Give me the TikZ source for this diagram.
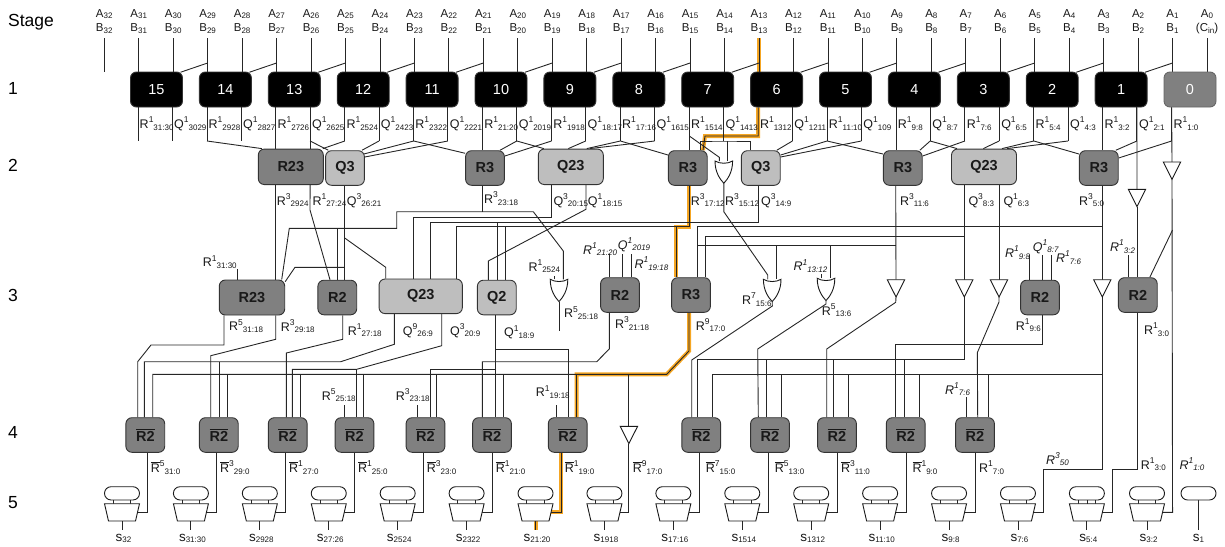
\documentclass[tikz,border=0pt]{standalone}
\usepackage{fontspec}
\setmainfont{Liberation Sans}
\usetikzlibrary{backgrounds}
\definecolor{rfill}{HTML}{808080}
\definecolor{qfill}{HTML}{BEBEBE}
\definecolor{pathorange}{HTML}{F5A623}

\newcommand{\sig}[3]{#1\raisebox{5.5pt}{\fontsize{8.5}{9}\selectfont #2}\raisebox{-1.8pt}{\fontsize{8}{9}\selectfont #3}}
\newcommand{\lsub}[2]{#1\raisebox{-1.5pt}{\fontsize{8}{8}\selectfont #2}}
\newcommand{\orr}{\ensuremath{\overline{\mbox{R}}}}

\tikzset{
  wire/.style={line width=0.9pt,black!85},
  hilite/.style={line width=4pt,pathorange},
  gate/.style={rectangle,rounded corners=6pt,draw=black!80,line width=0.9pt,inner sep=0pt,minimum height=34.6pt,text=black!90,font=\fontsize{14.5}{16}\selectfont\bfseries},
  blk/.style={gate,fill=black,text=white,minimum width=52pt,minimum height=35pt,font=\fontsize{14.5}{16}\selectfont},
  rnode/.style={gate,fill=rfill,minimum width=38.8pt},
  qnode/.style={gate,fill=qfill,minimum width=38.8pt},
  lab/.style={anchor=base west,inner sep=0pt,font=\fontsize{12.5}{14}\selectfont,text=black!90},
  ilab/.style={lab,font=\fontsize{12.5}{14}\selectfont\itshape},
  toplab/.style={anchor=base,inner sep=0pt,font=\fontsize{11.5}{13}\selectfont,text=black!90},
  rowlab/.style={anchor=base west,inner sep=0pt,font=\fontsize{17.5}{19}\selectfont},
  sumlab/.style={lab,anchor=base,font=\fontsize{13.5}{14}\selectfont},
  thin gate/.style={line width=0.9pt,black!90,fill=white},
  orgate/.pic={
    \draw[thin gate] (-8.8,0) .. controls (-8.8,11) and (-4,18) .. (0,22.3) .. controls (4,18) and (8.8,11) .. (8.8,0) .. controls (4,3) and (-4,3) .. cycle;
    \coordinate (-in) at (0,0);
    \coordinate (-out) at (0,22.3);
  },
  buffer/.pic={
    \draw[thin gate] (-8.7,0)--(8.7,0)--(0,17.3)--cycle;
    \coordinate (-in) at (0,0);
    \coordinate (-out) at (0,17.3);
  },
  pill/.pic={
    \draw[thin gate,rounded corners=6.6pt] (-17.5,-17) rectangle (17.5,-3.7);
    \coordinate (-low) at (0,-3.7);
  },
  mux/.pic={
    \draw[thin gate,rounded corners=6.6pt] (-17.5,-17) rectangle (17.5,-3.7);
    \draw[wire] (-8.7,-3.7)--(-8.7,0);
    \draw[wire] (8.7,-3.7)--(8.7,0);
    \draw[thin gate] (-17.5,0)--(17.5,0)--(13.5,17.3)--(-13.5,17.3)--cycle;
    \draw[wire] (0,17.3)--(0,26.3);
    \coordinate (-out) at (15.4,8.7);
    \coordinate (-bot) at (0,17.3);
  },
}

\begin{document}
\begin{tikzpicture}[x=1pt,y=-1pt]
\useasboundingbox (0,0) rectangle (1225,546);

% stage column
\node[rowlab] (st0) at (8,26) {Stage};
\foreach \i/\y in {1/94.3,2/171.7,3/301,4/438,5/508}
    \node[rowlab] (st\i) at (8,\y) {\i};

% operand columns
\foreach \k in {0,...,32}
    \coordinate (c\k) at ({1207-34.46*\k},0);
\foreach \k in {1,...,32}{
    \node[toplab] (a\k) at (c\k |- 0,17.3) {\lsub{A}{\k}};
    \node[toplab] (b\k) at (c\k |- 0,31.7) {\lsub{B}{\k}};
}
\node[toplab] (a0) at (c0 |- 0,17.3) {\lsub{A}{0}};
\node[toplab] (b0) at (c0 |- 0,31.7) {(\lsub{C}{in})};

% stage 1
\foreach \n in {1,...,15}
    \node[blk] (n\n) at ({1190-68.9*\n},89.5) {\n};
\node[blk,fill=rfill,draw=black!60] (n0) at (1190,89.5) {0};

\foreach \n in {0,...,15}{
    \coordinate (l\n) at ([xshift=-18.4pt]n\n.south);
    \coordinate (r\n) at ([xshift=15.8pt]n\n.south);
    \coordinate (jl\n) at (l\n |- 0,141);
    \coordinate (jr\n) at (r\n |- 0,141);
}

% stage 2
\node[rnode,minimum width=65pt,minimum height=35.5pt] (r23a) at (290.8,166.8) {R23};
\node[qnode] (q3a) at (345,168) {Q3};
\node[rnode] (r3a) at (485,168) {R3};
\node[qnode,minimum width=65pt,minimum height=35.5pt] (q23a) at (570.8,166.8) {Q23};
\node[rnode] (r3b) at (687.8,168) {R3};
\node[qnode] (q3b) at (760.8,168) {Q3};
\node[rnode] (r3c) at (902.8,168) {R3};
\node[qnode,minimum width=65pt,minimum height=35.5pt] (q23b) at (984,166.8) {Q23};
\node[rnode] (r3d) at (1098.8,168) {R3};
\pic (or1) at (723.8,161) {orgate};
\pic (bf1) at (1172,162) {buffer};
\pic (bf2) at (1137,189.3) {buffer};

% stage 3
\node[rnode,minimum width=65.4pt,minimum height=35pt] (r23b) at (252,297.5) {R23};
\node[rnode] (r2a) at (337.3,297.5) {R2};
\node[qnode,minimum width=83.3pt] (q23c) at (420.7,296.3) {Q23};
\node[qnode] (q2a) at (496.8,297.5) {Q2};
\node[rnode] (r2b) at (620,295) {R2};
\node[rnode] (r3e) at (691,295) {R3};
\node[rnode] (r2c) at (1040,297.5) {R2};
\node[rnode] (r2z) at (1137.8,295) {R2};
\pic (or2) at (559,279.3) {orgate};
\pic (or3) at (772.2,279.3) {orgate};
\pic (or4) at (826,278.3) {orgate};
\pic (bfa) at (896,279.7) {buffer};
\pic (bfb) at (964.3,279.7) {buffer};
\pic (bfc) at (999,279.7) {buffer};
\pic (bfd) at (1102.3,279.7) {buffer};

% stage 4
\foreach \nd/\x in {ra/145.3,rb/218.8,rc/287.7,rd/354.5,re/425.5,rf/492,rg/567.7,rh/701.2,ri/770,rj/837,rk/905.7,rl/975}
    \node[rnode] (\nd) at (\x,435) {\ensuremath{\overline{\mbox{R2}}}};
\pic (bfe) at (628.9,426.3) {buffer};

% stage 5
\foreach \m/\sb in {1/32,2/31:30,3/2928,4/27:26,5/2524,6/2322,7/21:20,8/1918,9/17:16,10/1514,11/1312,12/11:10,13/9:8,14/7:6,15/5:4}{
    \pic (m\m) at ({122+68.92*(\m-1)},503.7) {mux};
    \node[sumlab] (s\m) at ({123.5+68.92*(\m-1)},541) {\lsub{s}{\sb}};
}
\pic (m16) at (1147,503.7) {mux};
\node[sumlab] (s16) at (1148.5,541) {\lsub{s}{3:2}};
\pic (m17) at (1198.5,503.7) {pill};
\node[sumlab] (s17) at (1198.5,541) {\lsub{s}{1}};

\begin{scope}[on background layer]
% critical path
\draw[hilite] (c13 |- 0,38) -- (c13 |- n6.north);
\draw[hilite] (l6) -- (l6 |- 0,136) -- (705,136) -- ([xshift=15.2pt]r3b.north);
\draw[hilite] ([xshift=1.2pt]r3b.south) -- (689,226.7) -- (676,226.7) -- ([xshift=-15pt]r3e.north);
\draw[hilite] ([xshift=-2pt]r3e.south) -- (689,351) -- (666.7,374.3) -- (576.7,374.3) -- ([xshift=9pt]rg.north);
\draw[hilite] (561,0 |- rg.south) |- (m7-out);
\draw[hilite] (m7-bot) -- ++(0,9);

% inputs to stage 1
\draw[wire] (c32 |- 0,38) -- (c32 |- 0,72);
\foreach \n [evaluate=\n as \a using int(2*\n+1), evaluate=\n as \b using int(2*\n)] in {0,...,15}{
    \draw[wire] (c\a |- 0,38) -- (c\a |- n\n.north);
    \draw[wire] (c\b |- 0,38) -- (c\b |- n\n.north);
}
\foreach \n [evaluate=\n as \c using int(2*\n-1)] in {1,...,15}
    \draw[wire] (c\c |- 0,63) -- ([xshift=24pt,yshift=-0.7pt]n\n.north);

% stage 1 to stage 2
\foreach \n in {0,1,2,3,4,5,7,8,9,10,11,12,13,14,15}
    \draw[wire] (l\n) -- (jl\n);
\foreach \n in {1,...,15}
    \draw[wire] (r\n) -- (jr\n);
\draw[wire] (jl14) -- ([xshift=-29pt]r23a.north);
\draw[wire] (l13) -- (l13 |- r23a.north);
\draw[wire] (r13) -- (r13 |- r23a.north);
\draw[wire] (jr13) -- ([xshift=-16.7pt]q3a.north);
\draw[wire] (jl12) -- ([xshift=32pt]r23a.north);
\draw[wire] (jr12) -- ([xshift=17pt]q3a.north);
\draw[wire] (jl11) -- ([yshift=14pt,xshift=-1pt]q3a.east);
\draw[wire] (jr11) -- ([yshift=11pt]q3a.east);
\draw[wire] (jl11) -- ([yshift=14.7pt]r3a.west);
\draw[wire] (l10) -- (l10 |- r3a.north);
\draw[wire] (jr10) -- ([xshift=15pt]r3a.north);
\draw[wire] (jr10) -- ([xshift=-27pt]q23a.north);
\draw[wire] (jl9) -- ([yshift=12pt]r3a.east);
\draw[wire] (jr9) -- ([xshift=-2.5pt]q23a.north);
\draw[wire] (jl8) -- ([xshift=16pt]q23a.north);
\draw[wire] (jl8) -- ([yshift=13pt]r3b.west);
\draw[wire] (jr8) -- ([xshift=19pt]q23a.north);
\draw[wire] (l7) -- (l7 |- r3b.north);
\draw[wire] (l7 |- 0,136) -- (719.3,157.3) -- ([xshift=-4.5pt]or1-in);
\draw[wire] ([xshift=13pt]r3b.north) |- (jr7) -| ([xshift=-10pt]q3b.north);
\draw[wire] ([xshift=3.5pt]or1-in) -- (727.3,141);
\draw[wire] (l6) -- (l6 |- 0,136) -- (705,136) -- ([xshift=15.2pt]r3b.north);
\draw[wire] (jr6) -- ([xshift=16pt]q3b.north);
\draw[wire] (jl5) -- ([yshift=13pt]q3b.east);
\draw[wire] (jr5) -- ([yshift=11pt]q3b.east);
\draw[wire] (jl5) -- ([yshift=14pt]r3c.west);
\draw[wire] (l4) -- (l4 |- r3c.north);
\draw[wire] (jr4) -- ([xshift=17pt]r3c.north);
\draw[wire] (jr4) -- ([xshift=-27pt]q23b.north);
\draw[wire] (jl3) -- ([yshift=12pt]r3c.east);
\draw[wire] (jr3) -- ([xshift=-0.7pt]q23b.north);
\draw[wire] (jl2) -- ([xshift=18pt]q23b.north);
\draw[wire] (jl2) -- ([yshift=14pt]r3d.west);
\draw[wire] (jr2) -- ([xshift=23pt]q23b.north);
\draw[wire] (l1) -- (l1 |- r3d.north);
\draw[wire] (jr1) -- ([xshift=17pt]r3d.north);
\draw[wire] (r1) -- (bf2-in);
\draw[wire] (l0) -- (bf1-in);
\draw[wire] (jl0) -- ([yshift=10pt]r3d.east);

% stage 2 to stage 3
\draw[wire] (l13 |- r23a.south) -- (l13 |- r23b.north);
\draw[wire] (r13 |- r23a.south) -- (310,210) -- ([xshift=-7.3pt]r2a.north);
\draw[wire] ([xshift=-0.7pt]q3a.south) -- ([xshift=7pt]r2a.north);
\draw[wire] (344.3,237.7) -- (385.7,267.3) -- ([xshift=-35pt]q23c.north);
\draw[wire] (344.3,267.3) -- (295,267.3) -- ([yshift=15.8pt]r23b.east);
\draw[wire] ([xshift=-2.3pt]r3a.south) -- (482.7,211.7);
\draw[wire] ([xshift=29.7pt]r23b.north) -- (289.3,228.3) -- (396.7,228.3) -- (396.7,211.7) -- (533.3,211.7) -- (563.3,251) -- ([xshift=4.3pt]or2-in);
\draw[wire] ([xshift=0.4pt]r2a.north) -- (337.7,228.3);
\draw[wire] ([xshift=-19.1pt]q23a.south) -- (551.7,217.3) -- (413.3,217.3) -- ([xshift=-7.4pt]q23c.north);
\draw[wire] ([xshift=15.2pt]q23a.south) -- (586,209.3) -- (488.3,261) -- ([xshift=-8.5pt]q2a.north);
\draw[wire] ([xshift=-2.5pt]q3b.south) -- (758.3,222.3) -- (430,222.3) -- ([xshift=9.3pt]q23c.north);
\draw[wire] ([xshift=0.9pt]q2a.north) -- (497.7,222.3);
\draw[wire] ([xshift=1.2pt]r3b.south) -- (689,226.7) -- (456.7,226.7) -- ([xshift=36pt]q23c.north);
\draw[wire] ([xshift=8.9pt]q2a.north) -- (505.7,226.7);
\draw[wire] (676,226.7) -- ([xshift=-15pt]r3e.north);
\draw[wire] (or1-out) -- (723.8,211.7) -- (767.7,275) -- ([xshift=-4.5pt]or3-in);
\draw[wire] ([xshift=-7.1pt]r3c.south) -- (bfa-in);
\draw[wire] ([xshift=-19.7pt]q23b.south) -- (bfb-in);
\draw[wire] ([xshift=15pt]q23b.south) -- (bfc-in);
\draw[wire] ([xshift=3.5pt]r3d.south) -- (bfd-in);
\draw[wire] ([xshift=6.3pt]r3e.north) -- (697.3,226.7) -- (1102.3,226.7);
\draw[wire] ([xshift=14.7pt]r3e.north) -- (705.7,236) -- (964.3,236);
\draw[wire] (697.3,245.7) -- (895.7,245.7);
\draw[wire] (776,245.7) -- ([xshift=3.8pt]or3-in);
\draw[wire] (830,245.7) -- ([xshift=4pt]or4-in);
\draw[wire] ([xshift=-4.3pt]or4-in) -- ++(0,-4.5);
\draw[wire] ([xshift=-4.7pt]or2-in) -- ++(0,-3.5);
\draw[wire] (or2-out) -- ++(0,29);
\draw[wire] (bf2-out) -- ([xshift=-0.8pt]r2z.north);
\draw[wire] ([xshift=-9.5pt]r2z.north) -- ++(0,-22.7);
\draw[wire] (bf1-out) -- (c1 |- 0,512.3) -- (m16-out);
\draw[wire] (c1 |- 0,230) -- ([xshift=12pt]r2z.north);
\draw[wire] ([xshift=-14.3pt]r23b.north) -- ++(0,-11);
\foreach \dx in {-10.7,2.3,11}
    \draw[wire] ([xshift=\dx pt]r2b.north) -- ++(0,-23);
\foreach \dx in {-10.7,2.3,11}
    \draw[wire] ([xshift=\dx pt]r2c.north) -- ++(0,-25);

% stage 3 to stage 4
\draw[wire] ([xshift=-28pt]r23b.south) -- (224,345) -- (151,345) -- (137.7,361.7) -- ([xshift=-7.6pt]ra.north);
\draw[wire] ([xshift=23.7pt]r23b.south) -- (275.7,339.3) -- (210.7,355.7) -- ([xshift=-8.1pt]rb.north);
\draw[wire] ([xshift=5.4pt]r2a.south) -- (342.7,339.3) -- (286.3,353) -- ([xshift=-1.4pt]rc.north);
\draw[wire] ([xshift=-26.4pt]q23c.south) -- (394.3,344.3) -- (340.7,361.7) -- (144.3,361.7) -- ([xshift=-1pt]ra.north);
\draw[wire] (219.3,361.7) -- ([xshift=0.5pt]rb.north);
\draw[wire] ([xshift=21pt]q23c.south) -- (441.7,345.7) -- (356.7,369.3) -- (292.3,369.3) -- ([xshift=4.6pt]rc.north);
\draw[wire] (356.7,369.3) -- ([xshift=2.2pt]rd.north);
\draw[wire] ([xshift=-1.5pt]q2a.south) -- ([xshift=3.3pt]rf.north);
\draw[wire] (495.3,349) -- (568.3,349) -- ([xshift=0.6pt]rg.north);
\draw[wire] (495.3,369.3) -- (430,369.3) -- ([xshift=4.5pt]re.north);
\draw[wire] ([xshift=-10.7pt]r2b.south) -- (609.3,349) -- (596.7,361.7) -- (482.3,361.7) -- ([xshift=-9.7pt]rf.north);
\draw[wire] ([xshift=-2pt]r3e.south) -- (689,351) -- (666.7,374.3) -- (152.7,374.3) -- ([xshift=7.4pt]ra.north);
\foreach \nd/\dx in {rb/8.5,rc/12.3,rd/8.8,re/11.2,rf/11.3,rg/9}
    \draw[wire] ([xshift=\dx pt]\nd.north) -- ([xshift=\dx pt]\nd.north |- 0,374.3);
\draw[wire] (bfe-in) -- (bfe-in |- 0,374.3);
\draw[wire] (or3-out) -- (772.3,306) -- (691.7,360) -- ([xshift=-9.5pt]rh.north);
\draw[wire] (or4-out) -- (826,304) -- (757.7,349) -- ([xshift=-11.7pt]ri.north);
\draw[wire] (bfa-out) -- (895.7,302.3) -- (826.7,349) -- ([xshift=-10.3pt]rj.north);
\draw[wire] ([xshift=2.3pt]r2c.south) -- (1042.3,344.3) -- (895.7,344.3) -- ([xshift=-10pt]rk.north);
\draw[wire] (bfb-out) -- (964.3,359.3) -- (697.3,359.3) -- ([xshift=-3.9pt]rh.north);
\foreach \nd/\dx in {ri/-3.3,rj/-3.7,rk/-1.4}
    \draw[wire] ([xshift=\dx pt]\nd.north) -- ([xshift=\dx pt]\nd.north |- 0,359.3);
\draw[wire] (bfd-out) -- (1102.3,469.3) -- (1043.3,469.3) |- (m14-out);
\draw[wire] (1102.3,374.3) -- (712.3,374.3) -- ([xshift=11.1pt]rh.north);
\foreach \nd/\dx in {ri/11.7,rj/11.3,rk/13.6,rl/13.3}
    \draw[wire] ([xshift=\dx pt]\nd.north) -- ([xshift=\dx pt]\nd.north |- 0,374.3);
\draw[wire] (bfc-out) -- (999,302) -- (977.3,352.7) -- ([xshift=2.7pt]rl.north);
\draw[wire] ([xshift=-0.8pt]r2z.south) -- (1137,469.3) -- (1112.3,469.3) |- (m15-out);
\foreach \nd/\dx/\h in {rd/-9.8/12.7,re/-7.8/12.7,rg/-11/12.7,rl/-8.3/20.4}
    \draw[wire] ([xshift=\dx pt]\nd.north) -- ++(0,-\h);

% stage 4 to stage 5
\foreach \nd/\x/\m in {ra/147.7/1,rb/216.7/2,rc/285.7/3,rd/354.7/4,re/423.3/5,rf/492.3/6,rg/561/7,rh/699.3/9,ri/768/10,rj/837/11,rk/906/12,rl/975/13}
    \draw[wire] (\x,0 |- \nd.south) |- (m\m-out);
\draw[wire] (bfe-out) |- (m8-out);
\draw[wire] (m17-low) -- (1198.5,530);
\end{scope}

% stage 5 extras
\draw[wire] (1087,500.2) -- (1087,503.7);

% stage 1 labels
\foreach \k/\n/\t in {31/R/31:30,30/Q/3029,29/R/2928,28/Q/2827,27/R/2726,26/Q/2625,25/R/2524,24/Q/2423,23/R/2322,22/Q/2221,21/R/21:20,20/Q/2019,19/R/1918,18/Q/18:17,17/R/17:16,16/Q/1615,15/R/1514,14/Q/1413,13/R/1312,12/Q/1211,11/R/11:10,10/Q/109,9/R/9:8,8/Q/8:7,7/R/7:6,6/Q/6:5,5/R/5:4,4/Q/4:3,3/R/3:2,2/Q/2:1,1/R/1:0}
    \node[lab] (x\k) at ([xshift=0.8pt]c\k |- 0,128.3) {\sig{\n}{1}{\t}};

% other labels
\foreach \x/\y/\n/\p/\t [count=\i] in {
  276.7/205/R/3/2924, 312.3/205/R/1/27:24, 346.7/205/Q/3/26:21,
  484/203.3/R/3/23:18, 553.3/205/Q/3/20:15, 587.7/205/Q/1/18:15,
  690.7/205/R/3/17:12, 725/205/R/3/15:12, 761/205/Q/3/14:9,
  900/205/R/3/11:6, 968.3/205/Q/3/8:3, 1003.3/205/Q/1/6:3, 1079/205/R/3/5:0,
  202.7/266.7/R/1/31:30, 528.3/271/R/1/2524,
  229/330.7/R/5/31:18, 280.7/331/R/3/29:18, 347.7/335/R/1/27:18,
  402.7/335/Q/9/26:9, 450/335/Q/3/20:9, 504/336.7/Q/1/18:9,
  564/317.7/R/5/25:18, 615/328.3/R/3/21:18, 695.7/330/R/9/17:0,
  742/304.3/R/7/15:6, 821.7/315/R/5/13:6, 1015.7/330/R/1/9:6, 1144/334.3/R/1/3:0,
  321.7/400/R/5/25:18, 395.7/400/R/3/23:18, 535.7/396.7/R/1/19:18,
  150.7/472.3/\orr/5/31:0, 220/472.3/\orr/3/29:0, 289/472.3/\orr/1/27:0,
  358/472.3/\orr/1/25:0, 426.7/472.3/\orr/3/23:0, 495.7/472.3/\orr/1/21:0,
  564.7/472.3/\orr/1/19:0, 632.7/472.3/\orr/9/17:0, 705.7/472.3/\orr/7/15:0,
  774.7/472.3/\orr/5/13:0, 841/472.3/\orr/3/11:0, 912.3/472.3/\orr/1/9:0,
  979/472.3/R/1/7:0, 1140.7/469/R/1/3:0}
    \node[lab] (y\i) at (\x,\y) {\sig{\n}{\p}{\t}};

\foreach \x/\y/\n/\p/\t [count=\i] in {
  583/254/R/1/21:20, 617.7/249/Q/1/2019, 634.3/268.3/R/1/19:18,
  793.3/270.7/R/1/13:12, 1005/257.3/R/1/9:8, 1032.7/251/Q/1/8:7,
  1056/262.3/R/1/7:6, 1110/251.3/R/1/3:2, 945/394/R/1/7:6,
  1046/464/R/3/50, 1179.3/469/R/1/1:0}
    \node[ilab] (z\i) at (\x,\y) {\sig{\n}{\p}{\t}};
\end{tikzpicture}
\end{document}
